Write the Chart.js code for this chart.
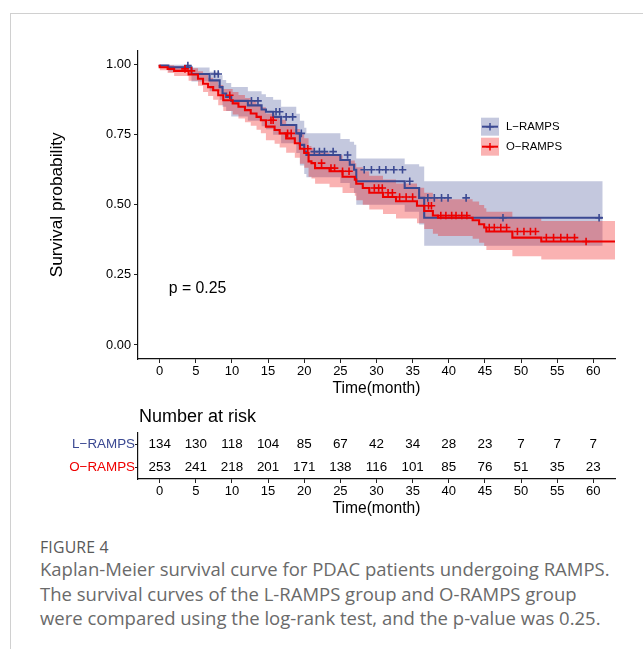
<!DOCTYPE html>
<html><head><meta charset="utf-8">
<script src="https://cdn.jsdelivr.net/npm/chart.js@4.4.1/dist/chart.umd.min.js"></script>
<style>
html,body{margin:0;padding:0;background:#fff;width:643px;height:649px;overflow:hidden;}
#frame{position:absolute;left:10px;top:13px;width:640px;height:640px;border-top:1px solid #d0d0d0;border-left:1px solid #d0d0d0;}
#c1{position:absolute;left:40px;top:40px;}
#c2{position:absolute;left:40px;top:400px;}
#fig{position:absolute;left:40px;top:538px;font-family:'Open Sans',sans-serif;font-size:15.8px;line-height:19px;color:#595959;font-weight:500;letter-spacing:0.2px;}
#cap{position:absolute;left:40px;top:557px;width:600px;font-family:'Open Sans',sans-serif;font-size:18.5px;line-height:24.5px;color:#6a6a6a;white-space:nowrap;}
</style></head>
<body>
<div id="frame"></div>
<canvas id="c1" width="590" height="370"></canvas>
<canvas id="c2" width="590" height="125"></canvas>
<div id="fig">FIGURE 4</div>
<div id="cap">Kaplan-Meier survival curve for PDAC patients undergoing RAMPS.<br>The survival curves of the L-RAMPS group and O-RAMPS group<br>were compared using the log-rank test, and the p-value was 0.25.</div>
<script>
// ---------- data ----------
const xTicks = [0,5,10,15,20,25,30,35,40,45,50,55,60];
const yTicks = [0,0.25,0.5,0.75,1];
const groups = ['L\u2212RAMPS','O\u2212RAMPS'];

// L-RAMPS step curve (time, survival, CI upper, CI lower)
const lTime  = [0,1.2,4.4,6.9,8.3,8.7,9.2,9.9,12.2,14.1,14.7,15.7,16.8,18.9,19.4,20.0,20.3,25.0,26.3,26.9,27.2,33.9,35.9,36.6,44.9,61.3];
const lSurv  = [1,0.997,0.991,0.967,0.944,0.92,0.897,0.885,0.871,0.855,0.84,0.832,0.814,0.785,0.755,0.714,0.69,0.678,0.66,0.643,0.625,0.584,0.56,0.525,0.454,0.454];
const lUpper = [1,1,1,0.99,0.975,0.962,0.945,0.935,0.92,0.905,0.895,0.885,0.875,0.85,0.825,0.80,0.775,0.755,0.735,0.725,0.714,0.665,0.645,0.637,0.584,0.584];
const lLower = [1,0.99,0.975,0.94,0.905,0.875,0.85,0.835,0.815,0.80,0.78,0.77,0.75,0.72,0.685,0.64,0.61,0.598,0.578,0.56,0.542,0.50,0.475,0.43,0.354,0.354];
const lCensor = [3.9,7.6,8.1,12.7,13.6,16.1,16.6,17.5,18.4,19.6,21.4,22.1,22.8,24.0,26.0,28.3,29.3,30.4,31.3,32.4,33.6,34.6,37.1,38.0,39.0,39.9,42.4,47.5,60.8];

// O-RAMPS step curve
const oTime  = [0,1.1,2.0,4.0,5.3,6.0,6.7,7.4,8.1,8.8,10.1,10.9,11.8,12.6,13.4,14.0,14.7,15.9,16.6,17.5,18.7,19.4,20.0,20.6,21.0,21.5,23.5,25.3,27.0,27.2,28.1,29.0,30.9,32.7,35.6,36.6,37.8,38.5,43.3,44.2,44.9,45.2,48.8,52.8,58.5,64.0];
const oSurv  = [1,0.991,0.985,0.978,0.965,0.95,0.932,0.92,0.909,0.891,0.873,0.862,0.85,0.838,0.826,0.814,0.802,0.779,0.767,0.755,0.737,0.72,0.70,0.685,0.655,0.649,0.631,0.62,0.60,0.59,0.575,0.56,0.543,0.528,0.513,0.497,0.478,0.462,0.454,0.445,0.431,0.419,0.405,0.383,0.369,0.369];
const oUpper = [1,1,0.998,0.995,0.987,0.977,0.963,0.953,0.944,0.928,0.913,0.903,0.892,0.881,0.87,0.859,0.848,0.826,0.815,0.804,0.787,0.771,0.752,0.738,0.71,0.704,0.687,0.677,0.658,0.648,0.634,0.62,0.604,0.59,0.576,0.561,0.543,0.528,0.52,0.512,0.499,0.488,0.475,0.455,0.442,0.442];
const oLower = [1,0.98,0.97,0.96,0.943,0.925,0.903,0.888,0.875,0.855,0.835,0.822,0.808,0.795,0.782,0.768,0.755,0.73,0.718,0.705,0.686,0.668,0.647,0.632,0.60,0.594,0.575,0.563,0.542,0.532,0.516,0.50,0.483,0.467,0.451,0.434,0.414,0.397,0.389,0.379,0.365,0.353,0.339,0.317,0.305,0.305];
const oCensor = [3.5,4.4,9.7,15.4,15.7,17.7,18.2,20.5,22.4,23.7,24.2,25.3,26.2,29.7,30.3,30.8,31.6,32.2,33.2,34.1,35.0,37.2,37.6,38.9,39.6,40.4,41.0,41.8,42.5,45.6,46.3,47.2,48.0,49.5,50.4,51.3,52.0,53.5,54.5,55.5,56.4,57.4,59.0];

// number at risk
const riskTimes = [0,5,10,15,20,25,30,35,40,45,50,55,60];
const lRisk = [134,130,118,104,85,67,42,34,28,23,7,7,7];
const oRisk = [253,241,218,201,171,138,116,101,85,76,51,35,23];

const pValueText = 'p = 0.25';
const pValuePos = [1.25, 0.2];

// ---------- style ----------
const BLUE = '#3B4992', RED = '#EE0000';
const BLUE_F = 'rgba(59,73,146,0.3)', RED_F = 'rgba(238,0,0,0.3)';
const FONT = "'Liberation Sans', Arial, sans-serif";

const pts = (ts, vs) => ts.map((t,i)=>({x:t, y:vs[i]}));
function stepAt(ts, vs, t){ let k=0; for(let i=0;i<ts.length;i++){ if(ts[i]<=t) k=i; } return vs[k]; }
const censorPts = (cs, ts, vs) => cs.map(t=>({x:t, y:stepAt(ts,vs,t)}));

function lineDs(data, color, order){
  return {data, borderColor:color, borderWidth:2.1, stepped:'after', pointRadius:0, fill:false, order};
}
function bandDs(data, color, fill, order){
  return {data, borderColor:'transparent', borderWidth:0, backgroundColor:color, stepped:'after', pointRadius:0, fill, order};
}
function censorDs(data, color, order){
  return {data, showLine:false, pointStyle:'cross', pointRadius:3.8, pointBorderWidth:1.6, borderColor:color, pointBorderColor:color, order};
}

const axisCommon = {
  grid:{drawOnChartArea:false, drawTicks:true, tickLength:4, tickColor:'#222', color:'#222', tickWidth:1},
  border:{display:true, color:'#111', width:1.2}
};

const overlay = {
  id:'overlay',
  afterDatasetsDraw(chart){
    const {ctx, chartArea:a, scales:{x,y}} = chart;
    ctx.save();
    // p value
    ctx.fillStyle='#000'; ctx.font = "15.8px "+FONT; ctx.textAlign='left'; ctx.textBaseline='middle';
    ctx.fillText(pValueText, x.getPixelForValue(pValuePos[0]), y.getPixelForValue(pValuePos[1]));
    // legend
    const kx = a.left+343, ky = [a.top+67, a.top+87];
    const cols = [[BLUE,BLUE_F],[RED,RED_F]];
    ctx.font = "11.4px "+FONT;
    for(let i=0;i<2;i++){
      const [c,f] = cols[i];
      const cy = ky[i]+9;
      ctx.fillStyle=f; ctx.fillRect(kx, ky[i], 18, 18);
      ctx.strokeStyle=c; ctx.lineWidth=2;
      ctx.beginPath(); ctx.moveTo(kx+1, cy); ctx.lineTo(kx+17, cy); ctx.stroke();
      ctx.lineWidth=1.5;
      ctx.beginPath(); ctx.moveTo(kx+9, cy-3.8); ctx.lineTo(kx+9, cy+3.8); ctx.moveTo(kx+5.2, cy); ctx.lineTo(kx+12.8, cy); ctx.stroke();
      ctx.fillStyle='#000'; ctx.fillText(groups[i], kx+25, cy+0.5);
    }
    ctx.restore();
  }
};

new Chart(document.getElementById('c1'), {
  type:'line',
  data:{datasets:[
    bandDs(pts(lTime,lUpper), BLUE_F, '+1', 10),
    bandDs(pts(lTime,lLower), BLUE_F, false, 10),
    bandDs(pts(oTime,oUpper), RED_F, '+1', 9),
    bandDs(pts(oTime,oLower), RED_F, false, 9),
    lineDs(pts(lTime,lSurv), BLUE, 6),
    lineDs(pts(oTime,oSurv), RED, 5),
    censorDs(censorPts(lCensor,lTime,lSurv), BLUE, 2),
    censorDs(censorPts(oCensor,oTime,oSurv), RED, 1)
  ]},
  options:{
    responsive:false, animation:false, events:[],
    layout:{padding:{top:8,right:15,bottom:0,left:0}},
    plugins:{legend:{display:false}, tooltip:{enabled:false}},
    scales:{
      x:{type:'linear', min:-3, max:63, ...axisCommon,
        afterBuildTicks:s=>{s.ticks = xTicks.map(v=>({value:v}));},
        afterFit:s=>{s.height=51;},
        ticks:{font:{family:FONT,size:13}, color:'#000', padding:1, maxRotation:0, autoSkip:false, callback:v=>String(v)},
        title:{display:true, text:'Time(month)', color:'#000', font:{family:FONT,size:15.6}, padding:{top:0,bottom:12}}
      },
      y:{type:'linear', min:-0.05, max:1.05, ...axisCommon,
        afterBuildTicks:s=>{s.ticks = yTicks.map(v=>({value:v}));},
        afterFit:s=>{s.width=98;},
        ticks:{font:{family:FONT,size:12.8}, color:'#000', padding:3, callback:v=>Number(v).toFixed(2)},
        title:{display:true, text:'Survival probability', color:'#000', font:{family:FONT,size:17.3}, padding:{top:7,bottom:0}}
      }
    }
  },
  plugins:[overlay]
});

// ---------- risk table ----------
const riskPlugin = {
  id:'risk',
  afterDatasetsDraw(chart){
    const {ctx, chartArea:a} = chart;
    ctx.save();
    ctx.fillStyle='#000'; ctx.textAlign='center'; ctx.textBaseline='middle';
    ctx.font = "13.4px "+FONT;
    chart.data.datasets.forEach((ds,di)=>{
      chart.getDatasetMeta(di).data.forEach((p,i)=>{ ctx.fillText(String(ds.risk[i]), p.x, p.y); });
    });
    ctx.font = "18px "+FONT; ctx.textAlign='left';
    ctx.fillText('Number at risk', a.left+1, 17);
    ctx.restore();
  }
};

new Chart(document.getElementById('c2'), {
  type:'line',
  data:{datasets:[
    {data:riskTimes.map(t=>({x:t,y:groups[0]})), risk:lRisk, showLine:false, pointRadius:0},
    {data:riskTimes.map(t=>({x:t,y:groups[1]})), risk:oRisk, showLine:false, pointRadius:0}
  ]},
  options:{
    responsive:false, animation:false, events:[],
    layout:{padding:{top:33,right:15,bottom:0,left:0}},
    plugins:{legend:{display:false}, tooltip:{enabled:false}},
    scales:{
      x:{type:'linear', min:-3, max:63, ...axisCommon,
        afterBuildTicks:s=>{s.ticks = xTicks.map(v=>({value:v}));},
        afterFit:s=>{s.height=46;},
        ticks:{font:{family:FONT,size:13}, color:'#000', padding:1, maxRotation:0, autoSkip:false, callback:v=>String(v)},
        title:{display:true, text:'Time(month)', color:'#000', font:{family:FONT,size:15.6}, padding:{top:0,bottom:7}}
      },
      y:{type:'category', labels:groups, offset:true, ...axisCommon,
        grid:{drawOnChartArea:false, drawTicks:true, tickLength:3, tickColor:'#222', color:'#222'},
        afterFit:s=>{s.width=98;},
        ticks:{font:{family:FONT,size:13.4}, padding:0, color:ctx=>ctx.index===0?BLUE:RED}
      }
    }
  },
  plugins:[riskPlugin]
});
</script>
</body></html>
